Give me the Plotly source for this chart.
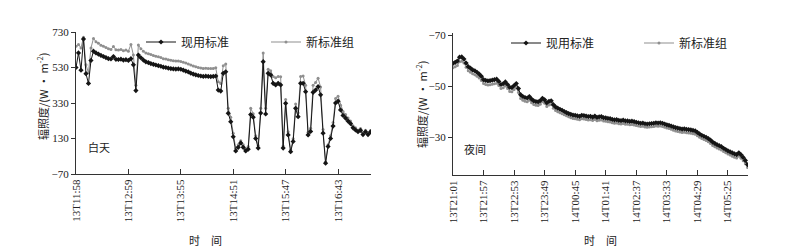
import plotly.graph_objects as go

W, H = 799, 252

day_ticks = ["13T11:58", "13T12:59", "13T13:55", "13T14:51", "13T15:47", "13T16:43"]
night_ticks = ["13T21:01", "13T21:57", "13T22:53", "13T23:49", "14T00:45",
               "14T01:41", "14T02:37", "14T03:33", "14T04:29", "14T05:25"]

day_current = [530, 612, 515, 690, 495, 440, 570, 622, 612, 605,
               598, 592, 586, 580, 578, 592, 576, 575, 577, 572,
               574, 570, 580, 545, 400, 600, 585, 572, 562, 558,
               552, 548, 544, 540, 537, 532, 530, 526, 524, 522,
               521, 522, 520, 515, 510, 505, 498, 493, 489, 485,
               482, 480, 481, 480, 479, 480, 482, 403, 397, 497,
               506, 272, 225, 140, 60, 80, 105, 80, 60, 70,
               265, 250, 130, 76, 273, 563, 268, 497, 488, 441,
               432, 441, 432, 76, 328, 150, 56, 113, 300, 253,
               441, 441, 394, 150, 170, 390, 403, 422, 376, 160,
               -9, 85, 130, 200, 330, 340, 291, 260, 245, 228,
               214, 190, 178, 168, 176, 152, 168, 152, 167]
day_new = [650, 660, 640, 700, 545, 500, 640, 694, 675, 666,
           655, 650, 642, 636, 632, 648, 630, 629, 632, 625,
           628, 622, 660, 600, 430, 657, 635, 622, 612, 608,
           603, 598, 594, 590, 586, 580, 578, 574, 571, 568,
           566, 567, 564, 560, 555, 550, 544, 539, 534, 530,
           527, 525, 526, 525, 524, 525, 528, 450, 440, 540,
           550, 300, 250, 160, 75, 95, 118, 95, 72, 85,
           300, 270, 145, 90, 300, 612, 300, 520, 512, 480,
           472, 480, 478, 88, 350, 168, 66, 128, 325, 275,
           480, 482, 430, 165, 188, 430, 445, 470, 420, 180,
           -2, 95, 145, 220, 355, 368, 318, 282, 265, 245,
           228, 202, 190, 178, 186, 162, 176, 160, 175]

night_current = [-58.9, -59.3, -59.8, -61.3, -61.4, -60.6, -59.0, -57.6, -57.0, -56.3,
                 -56.0, -55.4, -54.7, -53.8, -52.5, -52.2, -52.0, -52.1, -52.3, -52.5,
                 -52.7, -51.8, -50.6, -50.9, -51.6, -50.6, -49.5, -49.4, -50.2, -51.0,
                 -49.0, -46.6, -45.9, -45.5, -45.3, -45.9, -44.9, -44.2, -43.9, -43.8,
                 -44.3, -45.2, -44.6, -43.4, -44.0, -44.2, -42.7, -41.8, -41.3, -40.9,
                 -40.5, -40.0, -39.6, -39.2, -38.9, -38.6, -38.5, -38.3, -38.1, -38.5,
                 -38.4, -38.2, -38.0, -38.1, -37.8, -38.2, -37.7, -37.9, -38.0, -37.6,
                 -37.5, -37.3, -37.2, -36.9, -36.7, -36.8, -36.5, -36.4, -36.6, -36.3,
                 -36.3, -36.1, -36.2, -36.0, -35.8, -35.6, -35.4, -35.5, -35.2, -35.1,
                 -35.2, -35.3, -35.4, -35.6, -35.5, -35.6, -35.4, -35.1, -34.8, -34.6,
                 -34.3, -34.0, -33.7, -33.5, -33.3, -33.1, -33.2, -33.0, -32.9, -32.8,
                 -32.6, -32.4, -31.8, -31.2, -30.7, -30.3, -29.9, -29.4, -28.8, -28.0,
                 -27.5, -27.0, -26.6, -26.2, -25.6, -25.1, -24.6, -24.2, -23.8, -23.4,
                 -23.1, -23.8, -23.0, -22.0, -20.8, -19.2]
night_new = [-57.2, -57.6, -58.1, -59.5, -59.7, -59.0, -57.4, -56.0, -55.4, -54.8,
             -54.4, -53.8, -53.1, -52.2, -51.0, -50.6, -50.4, -50.5, -50.7, -50.9,
             -51.1, -50.2, -49.0, -49.3, -50.0, -49.0, -47.9, -47.8, -48.6, -49.4,
             -47.5, -45.1, -44.4, -44.0, -43.8, -44.4, -43.4, -42.8, -42.5, -42.4,
             -42.9, -43.8, -43.2, -42.0, -42.6, -42.8, -41.3, -40.4, -39.9, -39.5,
             -39.1, -38.7, -38.3, -37.9, -37.6, -37.3, -37.2, -37.0, -36.8, -37.2,
             -37.1, -36.9, -36.7, -36.8, -36.5, -36.9, -36.4, -36.6, -36.7, -36.3,
             -36.2, -36.0, -35.9, -35.6, -35.4, -35.5, -35.2, -35.1, -35.3, -35.0,
             -35.0, -34.8, -34.9, -34.7, -34.5, -34.3, -34.1, -34.2, -33.9, -33.8,
             -33.9, -34.0, -34.1, -34.3, -34.2, -34.3, -34.1, -33.8, -33.5, -33.3,
             -33.0, -32.7, -32.4, -32.2, -32.0, -31.8, -31.9, -31.7, -31.6, -31.5,
             -31.3, -31.1, -30.5, -29.9, -29.4, -29.0, -28.6, -28.1, -27.5, -26.7,
             -26.2, -25.7, -25.3, -24.9, -24.3, -23.8, -23.3, -22.9, -22.5, -22.1,
             -21.8, -22.5, -21.7, -20.7, -19.5, -18.0]

DAY_STEP = 21    # points between day tick labels
NIGHT_STEP = 14  # points between night tick labels

name_cur = "现用标准"
name_new = "新标准组"

CJK = "Noto Sans CJK SC"
SERIF = "Liberation Serif"
BLACK = "#151515"
GRAY = "#8f8f8f"

fig = go.Figure()

def add_pair(xref, yref, cur, new, legend):
    xs = list(range(len(cur)))
    fig.add_trace(go.Scatter(
        x=xs, y=new, name=name_new, mode="lines+markers",
        line=dict(color=GRAY, width=1),
        marker=dict(color=GRAY, size=3, symbol="circle"),
        xaxis=xref, yaxis=yref, legend=legend, legendrank=2))
    fig.add_trace(go.Scatter(
        x=xs, y=cur, name=name_cur, mode="lines+markers",
        line=dict(color=BLACK, width=1),
        marker=dict(color=BLACK, size=4, symbol="diamond"),
        xaxis=xref, yaxis=yref, legend=legend, legendrank=1))

add_pair("x", "y", day_current, day_new, "legend")
add_pair("x2", "y2", night_current, night_new, "legend2")

def px_x(p):
    return p / W

def px_y(p):
    return 1 - p / H

axis_common = dict(showgrid=False, zeroline=False, showline=True, automargin=False,
                   linecolor="#333", linewidth=1, tickcolor="#333",
                   tickfont=dict(family=SERIF, size=11, color="#222"))

day_tickvals = [i * DAY_STEP for i in range(len(day_ticks))]
night_tickvals = [i * NIGHT_STEP for i in range(len(night_ticks))]

fig.update_layout(
    width=W, height=H, margin=dict(l=0, r=0, t=0, b=0, autoexpand=False),
    paper_bgcolor="white", plot_bgcolor="white",
    showlegend=True,
    xaxis=dict(domain=[px_x(76), px_x(371)], range=[0, len(day_current) - 0.8],
               tickvals=day_tickvals, ticktext=day_ticks, tickangle=-90,
               ticks="inside", ticklen=5, anchor="y", **axis_common),
    yaxis=dict(domain=[px_y(174), px_y(32)], range=[-70, 730],
               tickvals=[-70, 130, 330, 530, 730], ticks="outside", ticklen=4,
               anchor="x", **axis_common),
    xaxis2=dict(domain=[px_x(453), px_x(748)], range=[0, len(night_current) - 0.8],
                tickvals=night_tickvals, ticktext=night_ticks, tickangle=-90,
                ticks="inside", ticklen=5, anchor="y2", **axis_common),
    yaxis2=dict(domain=[px_y(175), px_y(33)], range=[-15.1, -70.8],
                tickvals=[-70, -50, -30], ticks="outside", ticklen=4,
                anchor="x2", **axis_common),
    legend=dict(x=px_x(141), y=px_y(42), xanchor="left", yanchor="middle",
                orientation="h", entrywidth=80, itemwidth=30,
                font=dict(family=CJK, size=12, color="#222"),
                bgcolor="rgba(0,0,0,0)"),
    legend2=dict(x=px_x(506), y=px_y(43), xanchor="left", yanchor="middle",
                 orientation="h", entrywidth=88, itemwidth=30,
                 font=dict(family=CJK, size=12, color="#222"),
                 bgcolor="rgba(0,0,0,0)"),
)

ann_font = dict(family=CJK, size=11, color="#222")
annotations = [
    dict(text="辐照度/(W · m<sup>-2</sup>)", x=px_x(43), y=px_y(97), textangle=-90),
    dict(text="辐照度/(W · m<sup>-2</sup>)", x=px_x(421), y=px_y(105), textangle=-90),
    dict(text="时　间", x=px_x(205), y=px_y(240)),
    dict(text="时　间", x=px_x(600), y=px_y(240)),
    dict(text="白天", x=px_x(99), y=px_y(147)),
    dict(text="夜间", x=px_x(475), y=px_y(149)),
]
for a in annotations:
    fig.add_annotation(xref="paper", yref="paper", showarrow=False,
                       xanchor="center", yanchor="middle", font=ann_font, **a)

fig.write_html("out.html",
               config={"displayModeBar": False},
               post_script="document.body.style.margin='0px';"
                           "document.body.style.overflow='hidden';")
